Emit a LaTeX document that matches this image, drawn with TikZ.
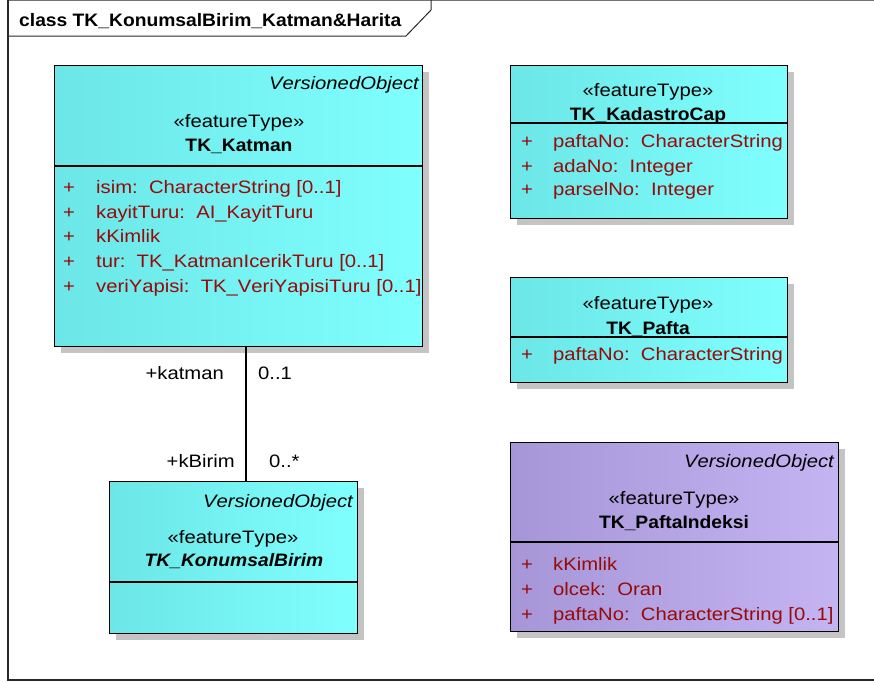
\documentclass[tikz,border=0pt]{standalone}
\usepackage{fontspec}
\setmainfont{Liberation Sans}[FakeStretch=1.125, Kerning=Off]
\newfontfamily\bfam{Liberation Sans}[FakeStretch=1.07, Kerning=Off]
\usetikzlibrary{shadows}
\definecolor{cyanL}{RGB}{108,230,230}
\definecolor{cyanR}{RGB}{128,255,255}
\definecolor{purpL}{RGB}{166,150,216}
\definecolor{purpR}{RGB}{196,180,242}
\definecolor{attr}{RGB}{150,10,10}
\definecolor{frameC}{RGB}{40,40,40}
\newcommand{\dsp}{\ \ }
\tikzset{
  txt/.style={font=\fontsize{18}{21}\selectfont, inner sep=0pt, text height=14.5pt, text depth=1.5pt},
  clsbox/.style={draw=black, line width=1.4pt, anchor=north west, inner sep=0pt,
    drop shadow={shadow xshift=6pt, shadow yshift=-6pt, fill=black!23, opacity=1}},
  cyanbox/.style={clsbox, left color=cyanL, right color=cyanR},
  purpbox/.style={clsbox, left color=purpL, right color=purpR},
  stereo/.style={txt, anchor=center},
  cname/.style={txt, anchor=center, font=\fontsize{18}{21}\selectfont\bfam\bfseries},
  vobj/.style={txt, anchor=east, font=\fontsize{18}{21}\selectfont\itshape},
  plus/.style={txt, anchor=center, text=attr},
  attrtxt/.style={txt, anchor=west, text=attr},
  sep/.style={line width=1.2pt, black},
  role/.style={txt},
}
\begin{document}
\begin{tikzpicture}[x=1pt,y=-1pt]
\useasboundingbox (0,0) rectangle (874,681);
% frame
\draw[line width=1pt, black!55] (8,0.5) -- (880,0.5);
\draw[line width=1.2pt, frameC] (8,0) -- (8,680) -- (880,680);
\draw[line width=1pt, frameC] (8,36) -- (406,36) -- (431,10) -- (431,0);
\node[txt, anchor=west, font=\fontsize{18}{21}\selectfont\bfam\bfseries] (title) at (19,20) {class TK\_KonumsalBirim\_Katman\&Harita};

% TK_Katman
\node[cyanbox, minimum width=368pt, minimum height=281pt] (katman) at (54,65) {};
\draw[sep] (54,166) -- (422,166);
\node[vobj] (katmanvo) at (419,83) {VersionedObject};
\node[stereo] (katmanst) at (239,121) {«featureType»};
\node[cname] (katmanname) at (239,145) {TK\_Katman};
\foreach \y/\t [count=\i] in {187/{isim:\dsp CharacterString [0..1]},
  212/{kayitTuru:\dsp AI\_KayitTuru},
  236/{kKimlik},
  261/{tur:\dsp TK\_KatmanIcerikTuru [0..1]},
  286/{veriYapisi:\dsp TK\_VeriYapisiTuru [0..1]}}{
  \node[plus] (katmanp\i) at (69,\y) {+};
  \node[attrtxt] (katmana\i) at (96,\y) {\t};
}

% TK_KadastroCap
\node[cyanbox, minimum width=277pt, minimum height=153pt] (kadastro) at (510,65) {};
\draw[sep] (510,123) -- (787,123);
\node[stereo] (kadastrost) at (648,90) {«featureType»};
\node[cname] (kadastroname) at (648,114) {TK\_KadastroCap};
\foreach \y/\t [count=\i] in {141/{paftaNo:\dsp CharacterString},
  166/{adaNo:\dsp Integer},
  189/{parselNo:\dsp Integer}}{
  \node[plus] (kadastrop\i) at (527,\y) {+};
  \node[attrtxt] (kadastroa\i) at (553,\y) {\t};
}

% TK_Pafta
\node[cyanbox, minimum width=277pt, minimum height=105pt] (pafta) at (510,277) {};
\draw[sep] (510,337) -- (787,337);
\node[stereo] (paftast) at (648,303) {«featureType»};
\node[cname] (paftaname) at (648,328) {TK\_Pafta};
\node[plus] (paftap1) at (527,354) {+};
\node[attrtxt] (paftaa1) at (553,354) {paftaNo:\dsp CharacterString};

% TK_PaftaIndeksi
\node[purpbox, minimum width=328pt, minimum height=189pt] (indeksi) at (510,442) {};
\draw[sep] (510,542) -- (838,542);
\node[vobj] (indeksivo) at (834,461) {VersionedObject};
\node[stereo] (indeksist) at (674,498) {«featureType»};
\node[cname] (indeksiname) at (674,522) {TK\_PaftaIndeksi};
\foreach \y/\t [count=\i] in {564/{kKimlik},
  589/{olcek:\dsp Oran},
  614/{paftaNo:\dsp CharacterString [0..1]}}{
  \node[plus] (indeksip\i) at (527,\y) {+};
  \node[attrtxt] (indeksia\i) at (553,\y) {\t};
}

% TK_KonumsalBirim
\node[cyanbox, minimum width=248pt, minimum height=152pt] (birim) at (109,481) {};
\draw[sep] (109,582) -- (357,582);
\node[vobj] (birimvo) at (353,501) {VersionedObject};
\node[stereo] (birimst) at (233,537) {«featureType»};
\node[cname, font=\fontsize{18}{21}\selectfont\bfam\bfseries\itshape] (birimname) at (234,560) {TK\_KonumsalBirim};

% association
\coordinate (ktop) at (246,346);
\coordinate (kbot) at (246,481);
\draw[line width=1.2pt, black] (ktop) -- (kbot);
\node[role, anchor=east] (rkatman) at (224,373) {+katman};
\node[role, anchor=west] (mkatman) at (258,373) {0..1};
\node[role, anchor=east] (rbirim) at (235,461) {+kBirim};
\node[role, anchor=west] (mbirim) at (269,461) {0..*};
\end{tikzpicture}
\end{document}
